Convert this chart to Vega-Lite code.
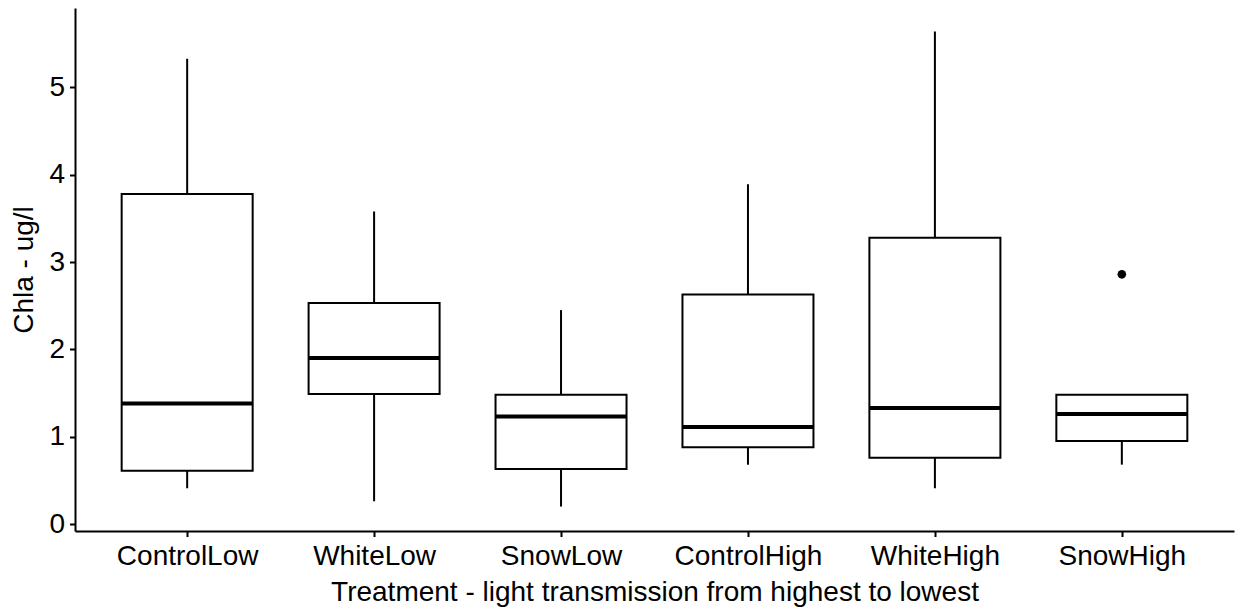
{
  "$schema": "https://vega.github.io/schema/vega-lite/v6.json",
  "autosize": {"type": "none"},
  "padding": {"left": 75, "top": 8, "right": 2, "bottom": 78},
  "width": 1159,
  "height": 523,
  "background": "white",
  "config": {
    "view": {"stroke": null},
    "font": "Liberation Sans",
    "axis": {
      "grid": false,
      "domainColor": "black",
      "domainWidth": 2,
      "tickColor": "black",
      "tickWidth": 2,
      "tickSize": 5.5,
      "labelColor": "black",
      "labelFontSize": 28,
      "labelFont": "Liberation Sans",
      "titleFont": "Liberation Sans",
      "titleFontSize": 28,
      "titleFontWeight": "normal",
      "titleColor": "black"
    }
  },
  "datasets": {
    "boxes": [
      {"treatment": "ControlLow", "lower": 0.41, "q1": 0.61, "median": 1.38, "q3": 3.78, "upper": 5.33},
      {"treatment": "WhiteLow", "lower": 0.26, "q1": 1.49, "median": 1.90, "q3": 2.53, "upper": 3.58},
      {"treatment": "SnowLow", "lower": 0.20, "q1": 0.63, "median": 1.23, "q3": 1.48, "upper": 2.45},
      {"treatment": "ControlHigh", "lower": 0.68, "q1": 0.88, "median": 1.11, "q3": 2.63, "upper": 3.89},
      {"treatment": "WhiteHigh", "lower": 0.41, "q1": 0.76, "median": 1.33, "q3": 3.28, "upper": 5.64},
      {"treatment": "SnowHigh", "lower": 0.68, "q1": 0.95, "median": 1.26, "q3": 1.48, "upper": 1.48}
    ],
    "outliers": [
      {"treatment": "SnowHigh", "value": 2.86}
    ]
  },
  "encoding": {
    "x": {
      "field": "treatment",
      "type": "nominal",
      "sort": ["ControlLow", "WhiteLow", "SnowLow", "ControlHigh", "WhiteHigh", "SnowHigh"],
      "scale": {"type": "point", "padding": 0.6, "domain": ["ControlLow", "WhiteLow", "SnowLow", "ControlHigh", "WhiteHigh", "SnowHigh"]},
      "axis": {"title": "Treatment - light transmission from highest to lowest", "labelAngle": 0, "labelPadding": 6, "titlePadding": 8}
    }
  },
  "layer": [
    {
      "data": {"name": "boxes"},
      "mark": {"type": "rule", "color": "black", "strokeWidth": 2},
      "encoding": {
        "y": {
          "field": "lower",
          "type": "quantitative",
          "scale": {"domain": [-0.08, 5.91], "nice": false, "zero": false},
          "axis": {"title": "Chla - ug/l", "values": [0, 1, 2, 3, 4, 5], "format": "d", "labelPadding": 5, "titlePadding": 10}
        },
        "y2": {"field": "upper"}
      }
    },
    {
      "data": {"name": "boxes"},
      "mark": {"type": "bar", "fill": "white", "stroke": "black", "strokeWidth": 2, "size": 131},
      "encoding": {
        "y": {"field": "q1", "type": "quantitative"},
        "y2": {"field": "q3"}
      }
    },
    {
      "data": {"name": "boxes"},
      "mark": {"type": "tick", "color": "black", "size": 131, "thickness": 4, "opacity": 1},
      "encoding": {
        "y": {"field": "median", "type": "quantitative"}
      }
    },
    {
      "data": {"name": "outliers"},
      "mark": {"type": "point", "filled": true, "color": "black", "size": 75, "opacity": 1},
      "encoding": {
        "y": {"field": "value", "type": "quantitative"}
      }
    }
  ]
}
